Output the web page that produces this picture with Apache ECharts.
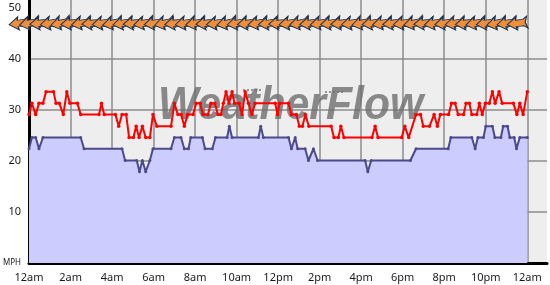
<!DOCTYPE html>
<html><head><meta charset="utf-8">
<script src="https://cdn.jsdelivr.net/npm/echarts@6/dist/echarts.min.js"></script>
<style>html,body{margin:0;padding:0;background:#fff}#c{width:550px;height:285px}</style>
</head><body><div id="c"></div>
<script>
// x tick labels (every 2 hours)
const tickLabels = ['12am','2am','4am','6am','8am','10am','12pm','2pm','4pm','6pm','8pm','10pm','12am'];

// gust (red) : [hour of day, mph]
const gustPoints = [
  [0.00,29.1],[0.14,31.3],[0.32,29.1],[0.48,31.3],[0.67,31.3],[0.82,33.6],[1.18,33.6],[1.30,31.3],[1.46,31.3],[1.65,29.1],
  [1.82,33.6],[1.97,31.3],[2.33,31.3],[2.49,29.1],[3.37,29.1],[3.49,31.3],[3.62,29.1],[4.16,29.1],[4.32,26.8],[4.48,29.1],
  [4.68,29.1],[4.82,24.6],[5.03,24.6],[5.16,26.8],[5.30,24.6],[5.46,26.8],[5.62,24.6],[5.82,24.6],[5.97,29.1],[6.16,26.8],
  [6.84,26.8],[7.00,31.3],[7.17,29.1],[7.33,29.1],[7.48,26.8],[7.64,29.1],[7.90,29.1],[8.05,31.3],[8.24,31.3],[8.38,29.1],
  [8.62,29.1],[8.76,31.3],[8.95,31.3],[9.10,29.1],[9.24,29.1],[9.36,31.3],[9.49,33.6],[9.63,31.3],[9.78,33.6],[9.90,31.3],
  [10.12,31.3],[10.26,29.1],[10.41,33.6],[10.57,31.3],[10.73,29.1],[10.89,31.3],[11.86,31.3],[11.97,29.1],[12.07,31.3],[12.50,31.3],
  [12.64,29.1],[12.88,29.1],[13.02,26.8],[13.17,26.8],[13.31,29.1],[13.48,26.8],[14.55,26.8],[14.69,24.6],[14.90,24.6],[15.02,26.8],
  [15.17,24.6],[16.52,24.6],[16.67,26.8],[16.81,24.6],[17.95,24.6],[18.10,26.8],[18.29,24.6],[18.64,29.1],[18.86,29.1],[18.99,26.8],
  [19.29,26.8],[19.51,29.1],[19.67,26.8],[19.81,29.1],[20.21,29.1],[20.35,31.3],[20.52,31.3],[20.67,29.1],[20.93,29.1],[21.05,31.3],
  [21.21,31.3],[21.33,29.1],[21.57,29.1],[21.69,31.3],[21.83,29.1],[21.98,31.3],[22.17,31.3],[22.32,33.6],[22.45,31.3],[22.64,33.6],
  [22.79,31.3],[23.33,31.3],[23.50,29.1],[23.64,31.3],[23.80,29.1],[24.00,33.6]
];

// average (blue, filled) : [hour of day, mph]
const avgPoints = [
  [0.00,22.4],[0.14,24.6],[0.32,24.6],[0.48,22.4],[0.67,24.6],[2.49,24.6],[2.65,22.4],[4.48,22.4],[4.63,20.1],[5.19,20.1],
  [5.32,17.9],[5.46,20.1],[5.62,17.9],[5.82,20.1],[5.97,22.4],[6.84,22.4],[7.00,24.6],[7.32,24.6],[7.48,22.4],[7.68,22.4],
  [7.79,24.6],[8.35,24.6],[8.48,22.4],[8.83,22.4],[8.98,24.6],[9.54,24.6],[9.65,26.8],[9.78,24.6],[11.05,24.6],[11.16,26.8],
  [11.29,24.6],[12.50,24.6],[12.64,22.4],[12.82,24.6],[12.94,22.4],[13.30,22.4],[13.46,20.1],[13.70,22.4],[13.90,20.1],[16.19,20.1],
  [16.32,17.9],[16.48,20.1],[18.37,20.1],[18.64,22.4],[20.19,22.4],[20.32,24.6],[21.33,24.6],[21.49,22.4],[21.62,24.6],[21.89,24.6],
  [22.00,26.8],[22.32,26.8],[22.44,24.6],[22.73,24.6],[22.84,26.8],[23.05,26.8],[23.16,24.6],[23.37,24.6],[23.48,22.4],[23.64,24.6],
  [24.00,24.6]
];

// wind direction (degrees, from) : [hour of day, deg]
const windDir = [
  [0.0,82],[0.5,80],[1.0,84],[1.5,81],[2.0,78],[2.5,83],[3.0,80],[3.5,85],[4.0,82],[4.5,79],
  [5.0,81],[5.5,84],[6.0,80],[6.5,82],[7.0,78],[7.5,83],[8.0,81],[8.5,80],[9.0,84],[9.5,82],
  [10.0,79],[10.5,81],[11.0,83],[11.5,80],[12.0,82],[12.5,85],[13.0,81],[13.5,79],[14.0,83],[14.5,80],
  [15.0,82],[15.5,84],[16.0,81],[16.5,78],[17.0,82],[17.5,80],[18.0,83],[18.5,81],[19.0,79],[19.5,84],
  [20.0,80],[20.5,82],[21.0,81],[21.5,83],[22.0,80],[22.5,82],[23.0,79],[23.5,81],[24.0,83]
];

const FONT = '"Noto Sans", sans-serif';
const ARROW_ROW = 47;
const arrowPath = 'path://M0 12 L17 0 L15.5 6 L29 6 L36 1 L32.5 12 L36 23 L29 18 L15.5 18 L17 24 Z';

const chart = echarts.init(document.getElementById('c'), null, {renderer: 'canvas'});
const gray = '#8c8c8c';
chart.setOption({
  animation: false,
  backgroundColor: '#ffffff',
  grid: {left: 26, right: 0, top: 0, bottom: 22, show: true, backgroundColor: '#eeeeee', borderWidth: 0},
  xAxis: {
    type: 'value', min: 0, max: 24.95, interval: 2,
    axisLine: {show: true, onZero: false, lineStyle: {color: '#000', width: 3}},
    axisTick: {show: false},
    axisLabel: {
      color: '#1a1a1a', fontSize: 11, fontFamily: FONT, margin: 9,
      formatter: v => {
        const i = Math.round(v / 2);
        return (Math.abs(v - i * 2) < 1e-6 && i < tickLabels.length) ? tickLabels[i] : '';
      }
    },
    splitLine: {show: true, lineStyle: {width: 1.5, color: [gray,gray,gray,gray,gray,gray,gray,gray,gray,gray,gray,gray,gray,'rgba(0,0,0,0)']}}
  },
  yAxis: {
    type: 'value', min: 0, max: 51.57, interval: 10,
    axisLine: {show: true, onZero: false, lineStyle: {color: '#000', width: 3}},
    axisTick: {show: false},
    axisLabel: {
      color: '#1a1a1a', fontSize: 11, fontFamily: FONT, margin: 8,
      formatter: v => v === 0 ? '{s|MPH}' : (Math.abs(v % 10) < 1e-6 ? String(v) : ''),
      rich: {s: {fontSize: 8, fontFamily: FONT, color: '#1a1a1a'}}
    },
    splitLine: {show: true, lineStyle: {width: 1.5, color: [gray,gray,gray,gray,gray,'rgba(0,0,0,0)','rgba(0,0,0,0)']}}
  },
  graphic: [
    {type: 'text', x: 158, y: 83, scaleX: 0.91, z: 1, silent: true,
     style: {text: 'WeatherFlow', font: 'italic bold 47px "Liberation Sans", sans-serif', fill: 'rgba(110,110,110,0.8)'}},
    {type: 'line', z: 1, silent: true, shape: {x1: 243, y1: 90, x2: 262, y2: 90},
     style: {stroke: 'rgba(110,110,110,0.7)', lineWidth: 2, lineDash: [2, 2]}},
    {type: 'line', z: 1, silent: true, shape: {x1: 325, y1: 92, x2: 343, y2: 92},
     style: {stroke: 'rgba(110,110,110,0.7)', lineWidth: 2, lineDash: [2, 2]}}
  ],
  series: [
    {
      type: 'line', name: 'avg', data: avgPoints, z: 2,
      symbol: 'circle', symbolSize: 3, showSymbol: true,
      lineStyle: {color: '#4b4b8c', width: 2},
      itemStyle: {color: '#4b4b8c'},
      areaStyle: {color: '#ccccff', opacity: 1}
    },
    {
      type: 'line', name: 'gust', data: gustPoints, z: 3,
      symbol: 'circle', symbolSize: 3.5, showSymbol: true,
      lineStyle: {color: '#ff0000', width: 2},
      itemStyle: {color: '#ff0000'}
    },
    {
      type: 'scatter', name: 'dir', z: 4,
      data: windDir.map(d => [d[0], ARROW_ROW, d[1]]),
      symbol: arrowPath, symbolSize: [20, 13], symbolKeepAspect: false,
      symbolOffset: [-10, 0],
      symbolRotate: (val) => 90 - val[2],
      itemStyle: {color: '#ef8e3b', borderColor: '#1c3450', borderWidth: 1, opacity: 1}
    }
  ]
});
</script></body></html>
